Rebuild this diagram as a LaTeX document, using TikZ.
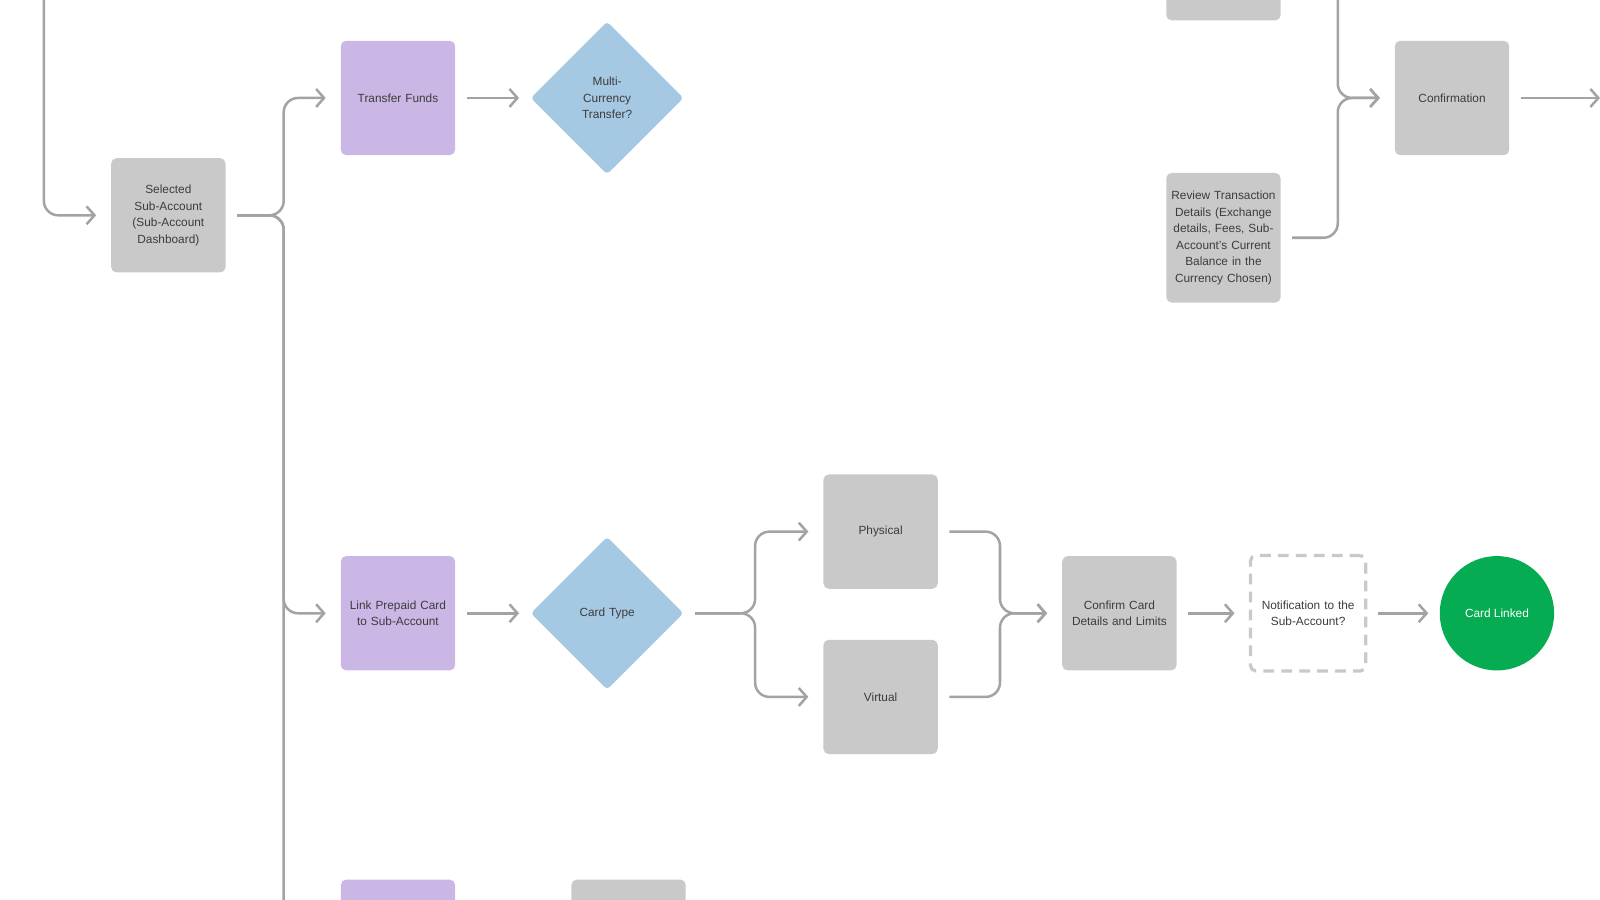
\documentclass[tikz,border=0pt]{standalone}
\usepackage{fontspec}
\setmainfont{Liberation Sans}
\usetikzlibrary{positioning,shapes.geometric,arrows.meta}
\definecolor{BoxGray}{HTML}{C9C9C9}
\definecolor{LineGray}{HTML}{A3A3A3}
\definecolor{ActPurple}{HTML}{CBB7E5}
\definecolor{DecBlue}{HTML}{A5C8E3}
\definecolor{EndGreen}{HTML}{05AC52}
\definecolor{TxtGray}{HTML}{3C3C3C}
\tikzset{
  procbox/.style={rectangle,rounded corners=1.5pt,fill=BoxGray,minimum width=1.12cm,minimum height=1.12cm,text width=0.98cm,align=center,text=TxtGray,font=\fontsize{3.3}{4.6}\selectfont,inner sep=1pt},
  action/.style={procbox,fill=ActPurple},
  choice/.style={diamond,fill=DecBlue,minimum width=1.5cm,minimum height=1.5cm,text width=0.6cm,align=center,text=TxtGray,font=\fontsize{3.3}{4.6}\selectfont,inner sep=0pt,rounded corners=1pt},
  ask/.style={procbox,fill=none,draw=BoxGray,line width=0.9pt,dash pattern=on 3pt off 2pt},
  done/.style={circle,fill=EndGreen,minimum size=1.12cm,text=white,font=\fontsize{3.3}{4.6}\selectfont},
  flow/.style={draw=LineGray,line width=0.7pt,rounded corners=4pt,-{Straight Barb[length=2.2pt,width=5pt]}},
  plain/.style={draw=LineGray,line width=0.7pt,rounded corners=4pt}
}
\begin{document}
\begin{tikzpicture}[x=0.01cm,y=-0.01cm]
\useasboundingbox (0,0) rectangle (1568,882);
% left column
\node[procbox] (sel) at (165,211) {Selected Sub-Account (Sub-Account Dashboard)};
\node[action] (transfer) at (390,96) {Transfer Funds};
\node[choice] (multi) at (595,96) {Multi-Currency Transfer?};
\node[action] (link) at (390,601) {Link Prepaid Card to Sub-Account};
\node[choice] (cardtype) at (595,601) {Card Type};
\node[procbox] (physical) at (863,521) {Physical};
\node[procbox] (virtual) at (863,683) {Virtual};
\node[procbox] (confcard) at (1097,601) {Confirm Card Details and Limits};
\node[ask,minimum width=1.13cm,minimum height=1.13cm] (notify) at (1282,601) {Notification to the Sub-Account?};
\node[done] (linked) at (1467,601) {Card Linked};
% top right
\node[procbox,text width=1.05cm,minimum height=1.27cm] (review) at (1199,233) {Review Transaction Details (Exchange details, Fees, Sub-Account's Current Balance in the Currency Chosen)};
\node[procbox] (confirm) at (1423,96) {Confirmation};
\node[procbox,minimum height=0.6cm] (upper) at (1199,-10) {};
% cut-off boxes at the bottom
\node[action,minimum height=0.6cm] (nextact) at (390,892) {};
\node[procbox,minimum height=0.6cm] (nextstep) at (616,892) {};
% free ends
\coordinate (intop) at (43,0);
\coordinate (rtop) at (1311,0);
\coordinate (outr) at (1568,96);
\coordinate (down) at (278,882);
% connectors
\draw[flow] (intop) |- ([xshift=-4pt]sel.west);
\draw[flow] ([xshift=3pt]sel.east) -| (278,96) -- ([xshift=-4pt]transfer.west);
\draw[flow] ([xshift=3pt]sel.east) -| (278,601) -- ([xshift=-4pt]link.west);
\draw[plain] ([xshift=3pt]sel.east) -| (down);
\draw[flow] ([xshift=3pt]transfer.east) -- ([xshift=-3pt]multi.west);
\draw[flow] ([xshift=3pt]link.east) -- ([xshift=-3pt]cardtype.west);
\draw[flow] ([xshift=3pt]cardtype.east) -| (740,521) -- ([xshift=-4pt]physical.west);
\draw[flow] ([xshift=3pt]cardtype.east) -| (740,683) -- ([xshift=-4pt]virtual.west);
\draw[flow] ([xshift=3pt]physical.east) -| (980,601) -- ([xshift=-4pt]confcard.west);
\draw[flow] ([xshift=3pt]virtual.east) -| (980,601) -- ([xshift=-4pt]confcard.west);
\draw[flow] ([xshift=3pt]confcard.east) -- ([xshift=-4pt]notify.west);
\draw[flow] ([xshift=3pt]notify.east) -- ([xshift=-3pt]linked.west);
\draw[flow] (rtop) |- ([xshift=-4pt]confirm.west);
\draw[flow] ([xshift=3pt]review.east) -| (1311,96) -- ([xshift=-4pt]confirm.west);
\draw[flow] ([xshift=3pt]confirm.east) -- (outr);
\end{tikzpicture}
\end{document}
